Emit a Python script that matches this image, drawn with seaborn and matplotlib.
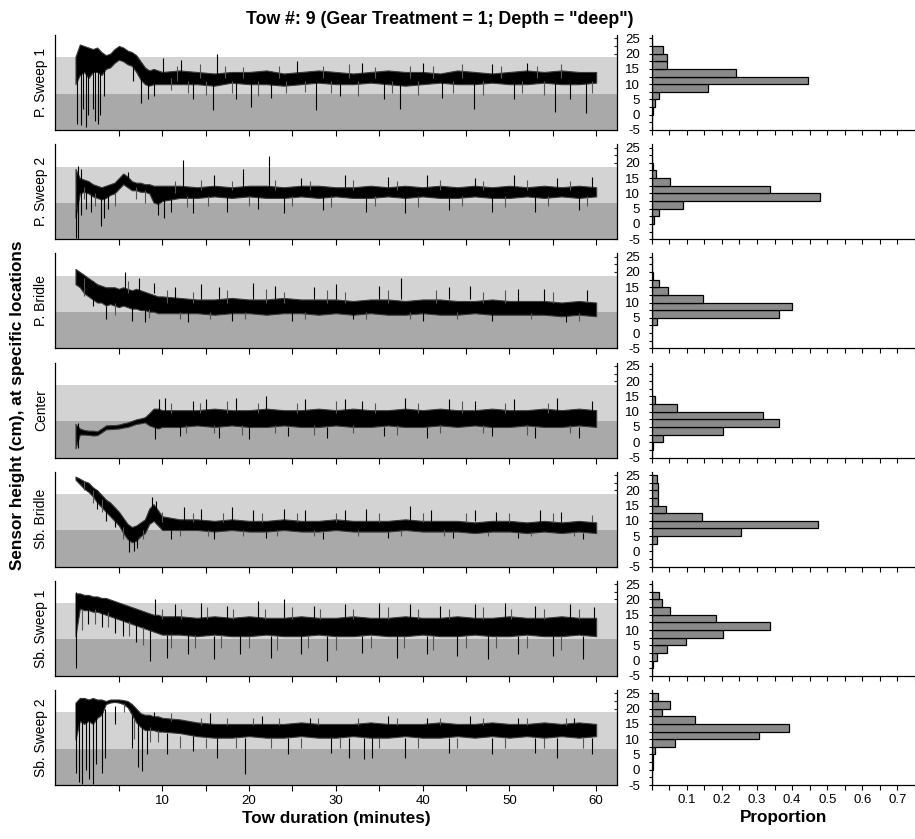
import numpy as np
import matplotlib
matplotlib.use('Agg')
import matplotlib.pyplot as plt
import seaborn as sns

sns.set_theme(style='ticks')
plt.rcParams['font.family'] = ['Liberation Sans', 'DejaVu Sans']
plt.rcParams['axes.unicode_minus'] = False
plt.rcParams['text.color'] = 'black'
plt.rcParams['axes.labelcolor'] = 'black'

# --- data ---
panel_names = ['P. Sweep 1', 'P. Sweep 2', 'P. Bridle', 'Center',
               'Sb. Bridle', 'Sb. Sweep 1', 'Sb. Sweep 2']

# time grid (minutes) for the envelope of each trace
minutes = [0, 0.5, 1, 1.5, 2, 2.5, 3, 3.5, 4, 4.5, 5, 5.5, 6, 6.5, 7, 7.5, 8, 8.5, 9, 9.5, 10,
           12, 14, 16, 18, 20, 22, 24, 26, 28, 30, 32, 34, 36, 38, 40, 42, 44, 46, 48, 50, 52, 54, 56, 58, 60]

# upper / lower edge of the dense part of each trace (cm)
psw1_hi = [19, 23, 22.5, 22, 21.5, 22, 20.5, 19.5, 20, 21.5, 22.5, 22, 21, 20.5, 19.5, 17.5, 15.5, 14.5, 15, 14.5, 14,
           14.5, 14, 13.5, 14, 14, 14.5, 13.5, 14, 14.5, 14, 13.5, 14, 14.5, 14, 14, 13.5, 14.5, 14, 13.5, 14, 14.5, 14, 14.5, 14, 14]
psw1_lo = [10, 13, 14, 12, 14, 14, 13, 15, 15.5, 17, 18, 17.5, 16.5, 16, 14, 11.5, 10, 9.5, 10, 10, 10,
           10, 10, 9.5, 10.5, 10, 10, 9.5, 10, 10.5, 10, 10, 10.5, 10, 9.5, 10, 10.5, 10, 10, 10.5, 10, 10, 10.5, 10, 10, 10.5]
psw2_hi = [18, 15, 14.5, 14, 13, 12.5, 12, 12.5, 13, 13.5, 15, 16.5, 15.5, 14, 13.5, 13.5, 13, 13, 12.5, 12.5, 12.5,
           12.5, 12, 12.5, 12, 12.5, 12.5, 12, 12.5, 12.5, 12, 12, 12.5, 12, 12.5, 12, 12.5, 12, 12.5, 12, 12.5, 12, 12.5, 12, 12.5, 12]
psw2_lo = [2, 10, 10.5, 10, 9, 8.5, 8, 8.5, 9.5, 10, 11.5, 13, 12, 11, 11, 10.5, 10.5, 10, 7, 6.5, 7.5,
           8.5, 8.5, 9, 8.5, 9, 8.5, 8.5, 9, 8.5, 9, 8.5, 8.5, 9, 8.5, 9, 8.5, 8.5, 9, 8.5, 8.5, 9, 8.5, 9, 8.5, 9]
pbr_hi = [21, 20, 19, 18, 17, 16, 15.5, 15, 15, 15, 14.5, 15, 14.5, 14, 14.5, 14, 13.5, 13, 12.5, 12, 12,
          11.5, 11, 11, 11.5, 11, 11, 11.5, 11, 11, 11, 10.5, 11, 11, 10.5, 11, 11, 10.5, 10.5, 11, 10.5, 10.5, 10.5, 10, 10.5, 10]
pbr_lo = [16, 15, 13, 12, 11, 10, 10, 9, 9.5, 9, 8.5, 9, 8.5, 8, 8, 7.5, 7.5, 7, 7, 6.5, 6.5,
          6.5, 6.5, 6, 6.5, 6.5, 6, 6.5, 6.5, 6, 6.5, 6, 6.5, 6, 6, 6.5, 6, 6, 6.5, 6, 6, 6, 6, 5.5, 6, 5.5]
ctr_hi = [6, 4.5, 4, 3.8, 3.8, 3.6, 4.5, 5.5, 5.6, 5.6, 5.8, 6.2, 6.5, 7, 7.5, 7.8, 8.2, 9.5, 11, 11, 10.5,
          10.5, 10.5, 11, 10.5, 10.5, 11, 10.5, 10.5, 11, 10.5, 11, 10.5, 10.5, 11, 10.5, 11, 10.5, 10.5, 11, 10.5, 10.5, 11, 10.5, 11, 10.5]
ctr_lo = [-2, 2.5, 2.5, 2.4, 2.2, 2.3, 3.2, 4.2, 4.3, 4.4, 4.5, 4.8, 5, 5.5, 6, 6.2, 6.5, 5.5, 5, 4.5, 5,
          5, 5.5, 5, 5.5, 5, 5, 5.5, 5, 5, 5.5, 5, 5, 5.5, 5, 5, 5.5, 5, 5.5, 5, 5, 5.5, 5, 5, 5.5, 5]
sbr_hi = [24.5, 23.8, 23, 22.5, 21, 20, 18.5, 17, 16, 14.5, 13, 11, 9, 8, 8.5, 9.5, 10.5, 14, 15.5, 13.5, 11.5,
          10.5, 10.5, 10, 10.5, 10, 10, 10.5, 10, 10, 10.5, 10, 10, 10, 10.5, 10, 10, 10, 9.5, 10, 10, 9.5, 10, 9.5, 10, 9.5]
sbr_lo = [23.5, 22, 20.5, 19.5, 18, 16, 14.5, 13, 11.5, 10, 8.5, 6, 4, 3, 3.5, 5, 6, 9, 10, 8.5, 7,
          7, 7, 6.5, 7, 6.5, 6.5, 7, 6.5, 6.5, 7, 6.5, 6.5, 6.5, 7, 6.5, 6.5, 6.5, 6, 6.5, 6.5, 6, 6.5, 6, 6.5, 6]
ssw1_hi = [22, 22, 21.5, 21.5, 21, 21, 20.5, 20.5, 20, 19.5, 19, 18.5, 18, 17.5, 17, 16.5, 16, 15.5, 15, 15, 14.5,
           14.5, 14, 14.5, 14, 14.5, 14, 14, 14.5, 14, 14, 14.5, 14, 14, 14.5, 14, 14, 14.5, 14, 14, 14.5, 14, 14, 14.5, 14, 14]
ssw1_lo = [8, 17, 16.5, 16.5, 16, 16, 15.5, 15, 14.5, 14, 13.5, 13, 12.5, 12, 11.5, 11, 10.5, 10, 9.5, 9, 8.5,
           8.5, 8, 8.5, 8, 8, 8.5, 8, 8, 8.5, 8, 8, 8.5, 8, 8, 8.5, 8, 8, 8.5, 8, 8, 8.5, 8, 8, 8.5, 8]
ssw2_hi = [22, 23.5, 23.5, 23, 23.5, 23, 23, 22.5, 23, 23, 23, 22.8, 22.5, 21.5, 20, 18.5, 18, 18, 17.5, 17.5, 17,
           16.5, 15.5, 15, 15, 15, 15, 15, 15.5, 15, 15, 15, 15.5, 15, 15, 15, 15.5, 15, 15, 15.5, 15, 15, 15.5, 15, 15.5, 15]
ssw2_lo = [10, 16, 15, 16, 15, 17, 18, 21.5, 22, 22.2, 22, 21.5, 20.5, 18, 15.5, 14, 13, 13, 13, 12.5, 12.5,
           12, 11, 10.5, 10.5, 11, 10.5, 10.5, 11, 10.5, 10.5, 11, 10.5, 10.5, 11, 10.5, 10.5, 11, 10.5, 11, 10.5, 11, 10.5, 11, 10.5, 11]

# large excursions of each trace: (minute, low, high)
psw1_spikes = [(0.2, -3, 18), (0.6, -3.5, 20), (0.9, 2, 20), (1.2, -4, 18), (1.5, 0, 19), (2.0, 2, 19),
               (2.3, -2, 19), (2.6, -3, 18), (2.8, 0, 17), (3.3, 6, 17), (6.6, 11, 19), (7.6, 4, 14),
               (8.3, 5, 12), (9.1, 6, 12), (10.1, 12, 18.5), (12.2, 12, 18), (13.5, 5, 11), (15.9, 1.5, 11),
               (16.3, 13, 19.9), (18.5, 5, 11), (20.2, 2.4, 11), (22.5, 5.5, 11), (25.5, 13, 17.5),
               (27.7, 1.5, 11), (30.5, 6, 11), (33, 13, 17), (35.5, 5, 11), (37.4, 2, 11), (40, 13, 17),
               (42.2, 5.5, 11), (45.9, 2, 11), (48, 13, 16.5), (50.5, 5, 11), (52, 13, 17), (55.2, 1, 11),
               (57, 5, 11), (58.8, 0.5, 11)]
psw2_spikes = [(0.1, -4.5, 5), (0.3, -5, 19), (0.6, 3, 18), (1.2, 5, 11), (1.8, 4, 11), (2.9, -0.8, 10),
               (3.3, 2, 10), (3.8, 5, 10), (6.0, 13, 17), (9.5, 3, 8), (10.2, 2, 8), (11, 4, 8), (12.4, 12, 21),
               (13.5, 3.5, 9), (16, 12, 16), (17.5, 4, 9), (19.3, 12, 18), (21, 5, 9), (22.3, 12, 22.3),
               (24, 3.5, 9), (26, 12, 15), (28.5, 4.5, 9), (31, 12, 16), (33.5, 4, 9), (36, 12, 15.5),
               (38, 3.5, 9), (40.5, 12, 16), (43, 4.5, 9), (46, 12, 15), (48, 4, 9), (50.5, 12, 16),
               (53, 4, 9), (55.5, 12, 15), (58, 4.5, 9), (59.5, 12, 15.5)]
pbr_spikes = [(2, 9, 17), (3.5, 4.5, 9), (5.7, 14, 20), (6.5, 4, 9), (7.3, 13, 18), (8.0, 3.5, 8),
              (9, 13, 16.5), (11.5, 11, 15), (13, 3.5, 7), (14.5, 11, 16), (16.5, 11, 15), (18, 4, 7),
              (20.5, 11, 16.5), (23, 11, 15.5), (25, 4, 7), (27.5, 11, 15), (30, 11, 16), (32, 4.5, 7),
              (35, 11, 15.5), (37.5, 11, 18), (40, 4, 7), (43, 11, 15), (45.5, 11, 15.5), (48, 4, 6.5),
              (51, 10.5, 14.5), (54, 10.5, 14.5), (56.5, 3.5, 6.5), (59, 10.5, 14)]
ctr_spikes = [(0.3, -2, 6.3), (9.2, 1, 6), (9.6, 10, 14), (10.3, 10, 14.5), (12, 2, 5.5), (13.5, 10, 13.5),
              (15, 10, 14), (16.5, 1.5, 5), (18.5, 10, 14.5), (20, 1, 5), (22, 10, 15.3), (24.5, 2, 5),
              (26.5, 10, 14), (29, 1.5, 5), (31, 10, 14), (33, 10, 13.5), (35.5, 2, 5), (38, 10, 14.5),
              (40.5, 1.5, 5), (43, 10, 14), (46, 10, 13.5), (48, 2, 5), (50.5, 10, 14), (53, 1.5, 5),
              (55.5, 10, 14.5), (58, 1.5, 5), (59.5, 10, 13.5)]
sbr_spikes = [(2.5, 14, 20), (3.5, 10, 15), (4.5, 8, 13), (6.2, -0.1, 5), (6.7, 0, 4), (7.1, 1, 5),
              (8.8, 13, 17.8), (9.3, 13, 16.5), (11, 4, 7), (12.5, 10, 14.5), (14.5, 10, 14), (16, 4, 7),
              (18, 10, 14.5), (20.5, 10, 13.5), (22, 4.5, 6.5), (24, 10, 14), (26.5, 10, 13.5), (28.5, 4, 6.5),
              (31, 10, 13.5), (33.5, 10, 14), (36, 4.5, 6.5), (38.5, 10, 15), (41, 10, 13.5), (43.5, 4.5, 6.5),
              (46, 10, 13.5), (48.5, 10, 13), (51, 4.5, 6), (53.5, 9.5, 13.5), (56, 9.5, 13), (58.5, 4, 6)]
ssw1_spikes = [(0.1, -2.5, 22.4), (1.5, 12, 18), (3, 11, 17), (4.5, 9, 15), (5.5, 8, 14), (7, 6, 12),
               (8.6, 0, 10), (9.2, 15, 20), (10.5, 1, 8.5), (11.5, 14, 18.5), (13, 2, 8.5), (14.5, 14, 19),
               (16, 0.5, 8), (17.5, 14, 18), (19, 2, 8), (21, 14, 19.5), (22.5, 1, 8), (24, 14, 20),
               (26, 2, 8), (27.5, 14, 18), (29, 0, 8), (31, 14, 18.5), (33, 2.5, 8), (35, 14, 19), (37, 1, 8),
               (38.5, 14, 18.5), (40.5, 2, 8), (42, 14, 18), (44, 1.5, 8), (46, 14, 18.5), (47.5, 0.5, 8),
               (49.5, 14, 19), (51, 2, 8), (53, 14, 18), (55, 1.5, 8), (57, 14, 18.5), (58.5, 0.5, 8),
               (59.7, 14, 17.5)]
ssw2_spikes = [(0.1, -1, 22), (0.4, -4, 20), (0.8, -4.6, 20), (1.2, 0, 20), (1.6, -3, 20), (2.0, -4.6, 20),
               (2.4, 2, 20), (3.0, -1, 20), (3.4, 4, 20), (4.5, 15, 21), (6.5, 7, 18), (7.2, 1, 15),
               (7.7, -0.3, 14), (8.2, 5, 13), (9, 13, 19), (10.5, 5, 12), (13.5, 6, 11), (15.5, 11, 18.5),
               (16.3, 4, 10.5), (19.5, -1.4, 10.5), (21.5, 15, 17.5), (24.5, 5, 10.5), (27, 15, 17),
               (29.5, 5.5, 10.5), (31.5, 4, 10.5), (33.2, 3.5, 10.5), (34.2, 4, 10.5), (36, 15, 17.5),
               (38, 4, 10.5), (40.5, 15, 17), (43, 5.5, 10.5), (45.5, 15, 17.5), (48, 5, 10.5), (51, 15, 17),
               (53, 5.5, 10.5), (55.5, 4, 10.5), (57.5, 15, 17), (59.5, 5, 10.5)]

# smaller excursions (drawn grey): (minute, low, high)
psw1_small = [(11, 8, 12), (11.7, 11, 16), (13, 7, 11), (14.3, 12, 16.5), (15, 6.5, 11), (17.2, 12, 16),
              (18, 7, 11), (19.3, 12, 15.5), (21, 6, 11), (23.5, 12, 16), (24.3, 7, 11), (26.5, 7.5, 11),
              (28.5, 12, 16), (29.5, 7, 11), (31.5, 12, 16.5), (32.5, 6, 11), (34.5, 12, 15.5), (36.5, 7, 11),
              (38.5, 12, 16), (39.5, 6.5, 11), (41.2, 12, 16), (43.5, 7, 11), (44.5, 12, 16.5), (47, 6.5, 11),
              (49, 12, 16), (51.5, 7, 11), (53.2, 12, 16), (54, 6.5, 11), (56, 12, 16.5), (59.5, 7, 11)]
psw2_small = [(1, 8, 12), (2.2, 6, 10), (4.5, 6, 10), (7, 8, 12), (8, 7, 11), (11.5, 10, 14), (12.8, 5.5, 9),
              (14.5, 11, 14.5), (15.3, 6, 9), (18, 11, 14), (20, 6, 9), (23, 11, 14.5), (25, 6, 9),
              (27, 11, 14), (29.5, 5.5, 9), (32, 11, 14.5), (34.5, 6, 9), (37, 11, 14), (39.5, 5.5, 9),
              (42, 11, 14.5), (44.5, 6, 9), (47, 11, 14), (49.5, 5.5, 9), (52, 11, 14.5), (54.5, 6, 9),
              (57, 11, 14), (59, 6, 9)]
pbr_small = [(1, 12, 18), (4.5, 6, 10), (6, 13, 17), (8.5, 5, 8), (10.5, 10, 14), (12, 4.5, 7), (13.5, 10, 13.5),
             (15.5, 4.5, 7), (17.5, 10, 14), (19.5, 4.5, 7), (22, 10, 14.5), (24, 10, 13.5), (26.5, 4.5, 7),
             (29, 10, 14), (31, 10, 13.5), (33.5, 4.5, 7), (36, 10, 14), (38.5, 4.5, 7), (41.5, 10, 14),
             (44, 4.5, 7), (47, 10, 13.5), (49.5, 10, 14), (52.5, 4.5, 6.5), (55, 10, 13.5), (58, 4, 6.5)]
ctr_small = [(11, 9.5, 13), (12.7, 3, 5.5), (14.3, 9.5, 13), (16, 3, 5.5), (17.5, 9.5, 13.5), (19.2, 2.5, 5.5),
             (21, 9.5, 13), (23, 3, 5.5), (25.5, 9.5, 13), (27.5, 2.5, 5.5), (30, 9.5, 13.5), (32, 3, 5.5),
             (34.5, 9.5, 13), (37, 2.5, 5.5), (39.5, 9.5, 13), (42, 3, 5.5), (44.5, 9.5, 13.5), (47, 3, 5.5),
             (49.5, 9.5, 13), (52, 2.5, 5.5), (54.5, 9.5, 13), (57, 3, 5.5)]
sbr_small = [(1, 20, 23), (2, 16, 20), (3, 13, 17), (5.5, 4, 8), (7.8, 4, 7), (10, 9.5, 13), (12, 5, 7),
             (13.5, 9.5, 12.5), (15.3, 5, 7), (17, 9.5, 12.5), (19.3, 5, 7), (21.5, 9.5, 12.5), (23.2, 5, 7),
             (25.5, 9.5, 12.5), (27.5, 5, 7), (30, 9.5, 12.5), (32.5, 5, 7), (35, 9.5, 12.5), (37.5, 5, 7),
             (40, 9.5, 12.5), (42.5, 5, 7), (45, 9.5, 12.5), (47.5, 5, 6.5), (50, 9.5, 12.5), (52.5, 5, 6.5),
             (55, 9.5, 12.5), (57.5, 5, 6.5), (59.5, 9.5, 12)]
ssw1_small = [(0.8, 10, 17), (2.2, 12, 17), (3.8, 11, 16), (6.2, 8, 13), (7.8, 5, 11), (10, 13.5, 17),
              (11, 4, 8.5), (12.2, 13.5, 17), (13.8, 4, 8.5), (15.2, 13.5, 17.5), (16.8, 4, 8), (18.2, 13.5, 17),
              (20, 4, 8), (21.8, 13.5, 17), (23.2, 3.5, 8), (25, 13.5, 17.5), (26.8, 4, 8), (28.2, 13.5, 17),
              (30, 3.5, 8), (32, 13.5, 17), (34, 4, 8), (36, 13.5, 17.5), (37.8, 4, 8), (39.5, 13.5, 17),
              (41.2, 3.5, 8), (43, 13.5, 17), (45, 4, 8), (47, 13.5, 17.5), (48.5, 4, 8), (50.2, 13.5, 17),
              (52, 4, 8), (54, 13.5, 17), (56, 3.5, 8), (58, 13.5, 17)]
ssw2_small = [(5.6, 19, 22), (6.8, 10, 17), (8.6, 9, 14), (9.5, 9, 13), (11, 16, 18.5), (12, 7, 11),
              (14.5, 14.5, 17), (15, 7, 10.5), (17.5, 14.5, 17), (18.5, 7, 10.5), (20.5, 14.5, 17), (22.5, 7, 10.5),
              (23.5, 14.5, 17), (26, 7, 10.5), (28, 14.5, 17), (30.5, 7, 10.5), (32.5, 14.5, 17), (35, 7, 10.5),
              (37, 14.5, 17), (39.5, 7, 10.5), (42, 14.5, 17), (44, 7, 10.5), (47, 14.5, 17), (49.5, 7, 10.5),
              (52, 14.5, 17), (54, 7, 10.5), (56.5, 14.5, 17), (58.5, 7, 10.5)]

# histogram: bins of 2.5 cm, listed from the bottom bin (-5 to -2.5) upwards
bin_edges = [-5, -2.5, 0, 2.5, 5, 7.5, 10, 12.5, 15, 17.5, 20, 22.5, 25]
psw1_prop = [0.001, 0.002, 0.003, 0.008, 0.022, 0.161, 0.444, 0.239, 0.045, 0.045, 0.033, 0]
psw2_prop = [0, 0.001, 0.006, 0.022, 0.088, 0.478, 0.338, 0.053, 0.011, 0.003, 0, 0]
pbr_prop = [0, 0, 0, 0.014, 0.364, 0.401, 0.145, 0.047, 0.022, 0.005, 0, 0]
ctr_prop = [0, 0.003, 0.033, 0.202, 0.364, 0.318, 0.073, 0.009, 0, 0, 0, 0]
sbr_prop = [0, 0, 0.002, 0.014, 0.254, 0.475, 0.142, 0.040, 0.019, 0.019, 0.019, 0.014]
ssw1_prop = [0.002, 0.005, 0.016, 0.043, 0.099, 0.204, 0.338, 0.184, 0.053, 0.028, 0.022, 0]
ssw2_prop = [0, 0, 0.003, 0.003, 0.009, 0.066, 0.305, 0.390, 0.123, 0.030, 0.053, 0.017]

# target height zone (cm)
zone_low, zone_high = 6.9, 18.75

panels = [
    (psw1_hi, psw1_lo, psw1_spikes, psw1_small, psw1_prop),
    (psw2_hi, psw2_lo, psw2_spikes, psw2_small, psw2_prop),
    (pbr_hi, pbr_lo, pbr_spikes, pbr_small, pbr_prop),
    (ctr_hi, ctr_lo, ctr_spikes, ctr_small, ctr_prop),
    (sbr_hi, sbr_lo, sbr_spikes, sbr_small, sbr_prop),
    (ssw1_hi, ssw1_lo, ssw1_spikes, ssw1_small, ssw1_prop),
    (ssw2_hi, ssw2_lo, ssw2_spikes, ssw2_small, ssw2_prop),
]

W, H = 915, 839
fig = plt.figure(figsize=(W / 100, H / 100), dpi=100)

bin_mid = [(a + b) / 2 for a, b in zip(bin_edges[:-1], bin_edges[1:])]
n = len(panels)
for i, (name, (hi, lo, spikes, small, prop)) in enumerate(zip(panel_names, panels)):
    last = i == n - 1
    base = 130 + i * 109.17  # pixel row of y = -5
    bottom = 1 - base / H
    height = 95 / H

    # time series
    ax = fig.add_axes([55 / W, bottom, 562 / W, height])
    ax.axhspan(-5, zone_low, color='#a9a9a9', lw=0)
    ax.axhspan(zone_low, zone_high, color='#d3d3d3', lw=0)
    sm = np.array(small)
    ax.vlines(sm[:, 0], sm[:, 1], sm[:, 2], color='#555555', lw=0.8)
    ax.fill_between(minutes, lo, hi, facecolor='black', edgecolor='#3c3c3c', lw=0.8)
    sp = np.array(spikes)
    ax.vlines(sp[:, 0], sp[:, 1], sp[:, 2], color='black', lw=0.8)
    ax.set_xlim(-2.36, 62.4)
    ax.set_ylim(-5, 26.1)
    ax.set_xticks(np.arange(5, 61, 5))
    ax.set_xticklabels([str(v) if (last and v % 10 == 0) else '' for v in range(5, 61, 5)])
    ax.set_yticks(np.arange(-5, 25.1, 2.5))
    ax.tick_params(axis='x', direction='out', length=4, width=0.8, labelsize=9.5, pad=3, colors='black')
    ax.tick_params(axis='y', left=False, right=True, labelleft=False, direction='in', length=2.5, width=0.8)
    ax.spines['top'].set_visible(False)
    for s in ['left', 'bottom', 'right']:
        ax.spines[s].set_linewidth(0.9)
        ax.spines[s].set_color('black')
    fig.text(41 / W, bottom + height / 2, name, rotation=90, ha='center', va='center', fontsize=10)
    if last:
        ax.set_xlabel('Tow duration (minutes)', fontsize=12.3, fontweight='bold', labelpad=3)

    # histogram of proportions
    axh = fig.add_axes([651.7 / W, bottom, 263.3 / W, height])
    sns.histplot(y=bin_mid, weights=prop, bins=bin_edges, ax=axh, color='#8a8a8a',
                 edgecolor='black', linewidth=0.9, alpha=1)
    axh.set_xlim(0, 0.75)
    axh.set_ylim(-5, 26.1)
    axh.set_yticks(np.arange(-5, 25.1, 2.5))
    axh.set_yticklabels([f'{v:g}' if v % 5 == 0 else '' for v in np.arange(-5, 25.1, 2.5)])
    axh.set_xticks(np.arange(0, 0.751, 0.05))
    axh.set_xticklabels([f'{v:.1f}' if (last and abs(v * 10 - round(v * 10)) < 1e-6 and v > 0.05) else ''
                         for v in np.arange(0, 0.751, 0.05)])
    axh.tick_params(axis='y', direction='out', length=2.5, width=0.8, labelsize=9.5, pad=6, colors='black')
    axh.tick_params(axis='x', direction='out', length=3.5, width=0.8, labelsize=9.5, pad=3, colors='black')
    axh.set_xlabel('')
    axh.set_ylabel('')
    for s in ['top', 'right']:
        axh.spines[s].set_visible(False)
    for s in ['left', 'bottom']:
        axh.spines[s].set_linewidth(0.9)
        axh.spines[s].set_color('black')
    if last:
        axh.set_xlabel('Proportion', fontsize=12.3, fontweight='bold', labelpad=3)

fig.text(440 / W, 1 - 20 / H, 'Tow #: 9 (Gear Treatment = 1; Depth = "deep")',
         ha='center', va='center', fontsize=12.8, fontweight='bold')
fig.text(18 / W, 1 - 405 / H, 'Sensor height (cm), at specific locations', rotation=90,
         ha='center', va='center', fontsize=12.3, fontweight='bold')

fig.savefig('out.png', dpi=100)
